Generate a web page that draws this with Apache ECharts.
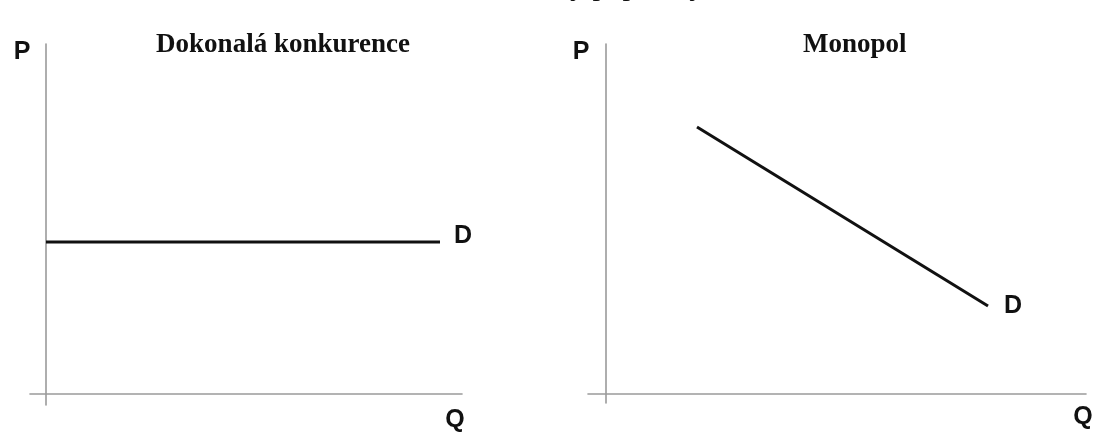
<!DOCTYPE html>
<html>
<head>
<meta charset="utf-8">
<script src="https://cdn.jsdelivr.net/npm/echarts@6/dist/echarts.min.js"></script>
<style>
html,body{margin:0;padding:0;background:#fff;}
#c{width:1113px;height:432px;}
</style>
</head>
<body>
<div id="c"></div>
<script>
// Data (arbitrary units: Q on x, P on y)
const perfectQ = [0, 98.5];
const perfectP = [38, 38];
const monopolyQ = [22.75, 95.5];
const monopolyP = [66.75, 22];
const panelTitles = ['Dokonalá konkurence', 'Monopol'];
const headerText = 'Křivky poptávky';
const demandLabel = 'D';
const priceLabel = 'P';
const quantityLabel = 'Q';

const chart = echarts.init(document.getElementById('c'), null, {renderer: 'canvas'});

const axisLine = {show: true, onZero: true, lineStyle: {color: '#9a9a9a', width: 1.6}};
function xAx(idx, min, max) {
  return {type: 'value', gridIndex: idx, min: min, max: max,
    axisLine: axisLine, axisTick: {show: false}, axisLabel: {show: false}, splitLine: {show: false}};
}
function yAx(idx, min, max) {
  return {type: 'value', gridIndex: idx, min: min, max: max,
    axisLine: axisLine, axisTick: {show: false}, axisLabel: {show: false}, splitLine: {show: false}};
}
function lineData(qs, ps) { return qs.map((q, i) => [q, ps[i]]); }

const option = {
  backgroundColor: '#ffffff',
  animation: false,
  grid: [
    {left: 30, right: 1113 - 462, top: 44, bottom: 432 - 405},
    {left: 588, right: 1113 - 1086, top: 44, bottom: 432 - 403}
  ],
  xAxis: [xAx(0, -4, 104), xAx(1, -4.5, 120)],
  yAxis: [yAx(0, -2.75, 87.5), yAx(1, -2.25, 87.5)],
  series: [
    {type: 'line', xAxisIndex: 0, yAxisIndex: 0, data: lineData(perfectQ, perfectP),
      symbol: 'none', lineStyle: {color: '#111', width: 3},
      endLabel: {show: true, formatter: demandLabel, distance: 14, offset: [0, -6],
        fontFamily: 'Liberation Sans', fontWeight: 'bold', fontSize: 25, color: '#111'}},
    {type: 'line', xAxisIndex: 1, yAxisIndex: 1, data: lineData(monopolyQ, monopolyP),
      symbol: 'none', lineStyle: {color: '#111', width: 3},
      endLabel: {show: true, formatter: demandLabel, distance: 16, offset: [0, 0],
        fontFamily: 'Liberation Sans', fontWeight: 'bold', fontSize: 25, color: '#111'}}
  ],
  graphic: [
    {type: 'text', left: 500, top: -28, style: {text: headerText, font: '30px "Liberation Serif"', fill: '#111'}},
    {type: 'text', x: 283, y: 45, style: {text: panelTitles[0], font: 'bold 27px "Liberation Serif"', fill: '#111', textAlign: 'center', textVerticalAlign: 'middle'}},
    {type: 'text', x: 803, y: 45, style: {text: panelTitles[1], font: 'bold 27px "Liberation Serif"', fill: '#111', textAlign: 'left', textVerticalAlign: 'middle'}},
    {type: 'text', x: 22, y: 52, style: {text: priceLabel, font: 'bold 25px "Liberation Sans"', fill: '#111', textAlign: 'center', textVerticalAlign: 'middle'}},
    {type: 'text', x: 581, y: 52, style: {text: priceLabel, font: 'bold 25px "Liberation Sans"', fill: '#111', textAlign: 'center', textVerticalAlign: 'middle'}},
    {type: 'text', x: 455, y: 420, style: {text: quantityLabel, font: 'bold 25px "Liberation Sans"', fill: '#111', textAlign: 'center', textVerticalAlign: 'middle'}},
    {type: 'text', x: 1083, y: 417, style: {text: quantityLabel, font: 'bold 25px "Liberation Sans"', fill: '#111', textAlign: 'center', textVerticalAlign: 'middle'}}
  ]
};
chart.setOption(option);
</script>
</body>
</html>
